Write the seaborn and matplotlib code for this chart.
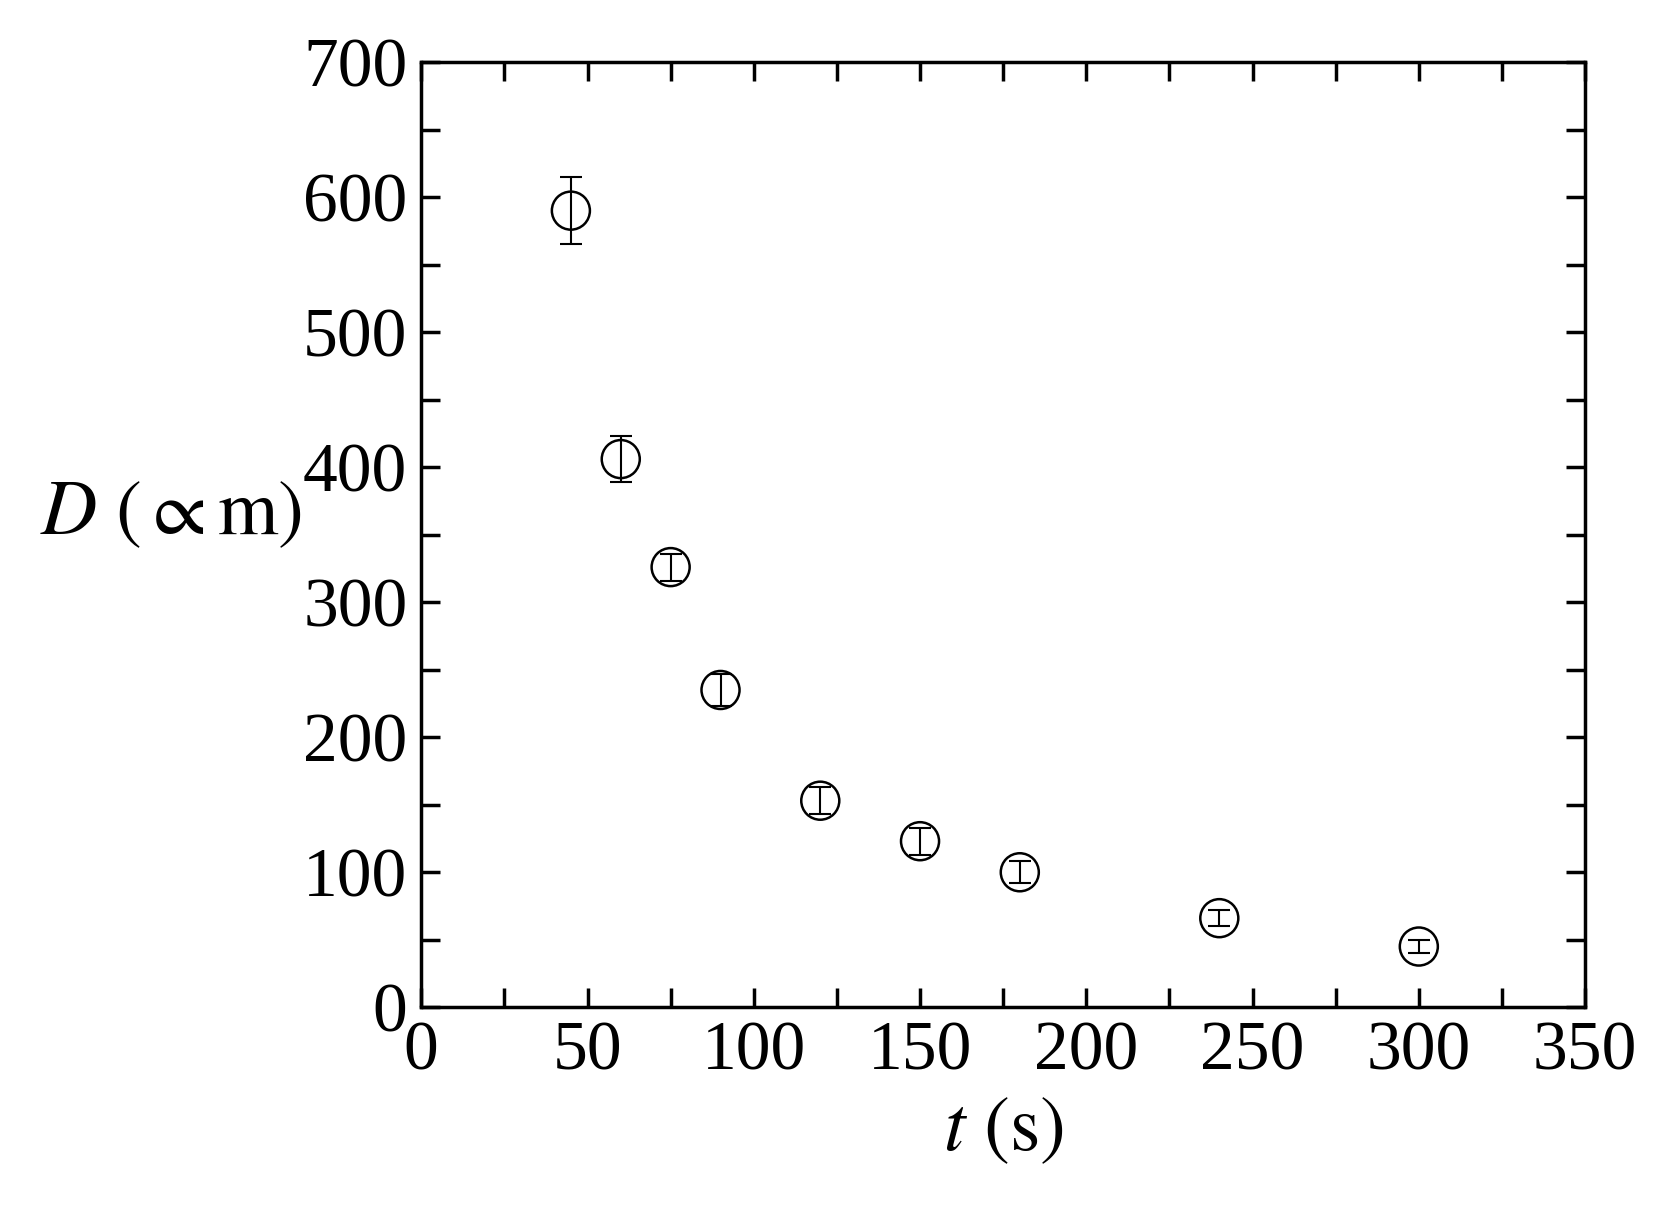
import matplotlib
matplotlib.use("Agg")
import matplotlib.pyplot as plt
import seaborn as sns
import pandas as pd
from matplotlib.ticker import MultipleLocator

t = [45, 60, 75, 90, 120, 150, 180, 240, 300]
D = [590, 406, 326, 235, 153, 123, 100, 66, 45]
err = [25, 17, 10, 12, 10, 10, 8, 6, 5]
df = pd.DataFrame({"t": t, "D": D, "err": err})

sns.set_theme(style="ticks")
plt.rcParams['font.family'] = ['Liberation Serif', 'DejaVu Serif']
plt.rcParams['mathtext.fontset'] = 'stix'

fig = plt.figure(figsize=(16.65, 12.18), dpi=100)
ax = fig.add_axes([0.253, 0.173, 0.699, 0.776])
ax.errorbar(df.t, df.D, yerr=df.err, fmt='none', ecolor='black', elinewidth=1.5, capsize=8, capthick=1.5, zorder=1)
sns.scatterplot(data=df, x="t", y="D", ax=ax, s=750, facecolor='none', edgecolor='black', linewidth=1.8, zorder=2)
ax.set_xlim(0, 350)
ax.set_ylim(0, 700)
ax.xaxis.set_major_locator(MultipleLocator(50))
ax.xaxis.set_minor_locator(MultipleLocator(25))
ax.yaxis.set_major_locator(MultipleLocator(100))
ax.yaxis.set_minor_locator(MultipleLocator(50))
ax.tick_params(which='both', direction='in', top=True, right=True, width=2.5, labelsize=50, pad=10, colors='black')
ax.tick_params(which='major', length=14)
ax.tick_params(which='minor', length=14)
for s in ax.spines.values():
    s.set_linewidth(2.5)
    s.set_color('black')
ax.set_xlabel(r"$t\ (\mathrm{s})$", fontsize=56, labelpad=8, color='black')
ax.set_ylabel(r"$D\ (\propto\mathrm{m})$", fontsize=56, rotation=0, va='center', ha='center', color='black')
ax.yaxis.set_label_coords(-0.215, 0.52)
fig.savefig("out.png", dpi=100)
